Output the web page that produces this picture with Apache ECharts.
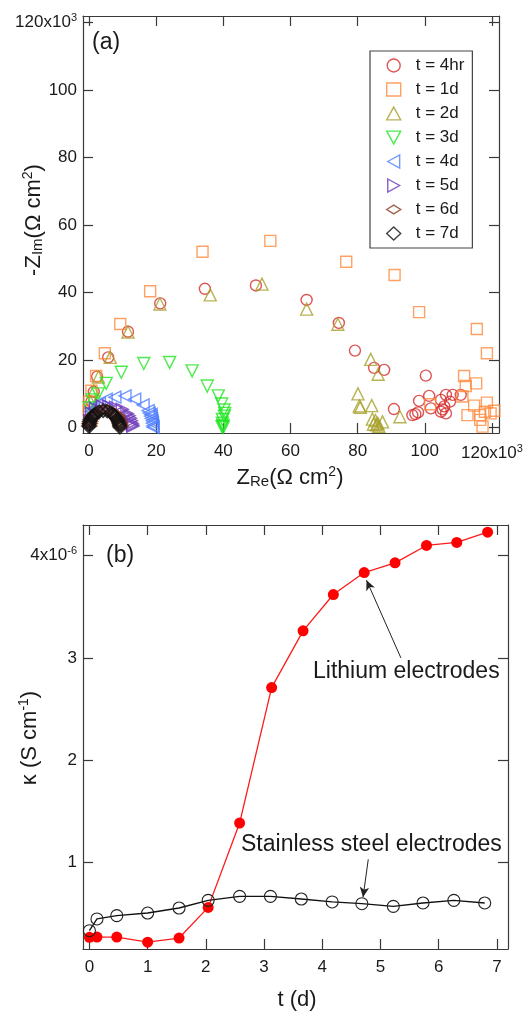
<!DOCTYPE html>
<html>
<head>
<meta charset="utf-8">
<script src="https://cdn.jsdelivr.net/npm/echarts@6/dist/echarts.min.js"></script>
<style>
html,body{margin:0;padding:0;background:#fff;}
#c{width:526px;height:1013px;}
</style>
</head>
<body>
<div id="c"></div>
<script>
// ---------- Panel (a): Nyquist plots, values in 10^3 Ω cm² ----------
const seriesNamesA = ['t = 4hr','t = 1d','t = 2d','t = 3d','t = 4d','t = 5d','t = 6d','t = 7d'];
const hr4 = [[0.7,7.7],[1.4,10.6],[2.4,15.1],[5.7,20.8],[11.6,28.4],[21.2,36.8],[34.5,41.1],[49.7,42.1],[64.8,37.8],[74.4,31.0],[79.2,22.8],[84.9,17.7],[87.9,17.1],[100.3,15.4],[90.8,5.5],[96.3,3.7],[97.2,4.0],[98.0,4.5],[98.3,7.9],[101.3,9.4],[101.8,5.7],[104.8,8.2],[104.8,4.7],[105.3,5.4],[105.8,6.3],[106.3,9.7],[106.3,4.2],[107.5,7.7],[108.3,9.7],[110.7,9.7]];
const d1 = [[-0.1,5.2],[0.1,7.7],[0.7,10.9],[2.1,15.3],[4.7,22.0],[9.3,30.7],[18.2,40.4],[33.8,52.1],[54.0,55.3],[76.6,49.1],[91.0,45.2],[98.3,34.2],[115.5,29.2],[118.5,22.0],[111.7,15.3],[112.2,12.3],[115.3,13.1],[111.2,9.2],[101.6,6.9],[114.7,6.5],[118.5,7.4],[112.7,3.7],[116.5,3.7],[117.9,4.7],[120.7,5.0],[116.5,2.3],[117.2,0.3],[119.6,4.2]];
const d2 = [[0.5,7.5],[1.4,10.8],[2.8,15.0],[6.3,20.8],[11.6,28.3],[21.1,36.6],[36.1,39.3],[51.5,42.5],[64.8,35.1],[74.1,30.6],[83.9,20.2],[86.1,15.8],[80.1,10.0],[80.5,6.4],[80.8,6.0],[84.2,6.5],[92.6,3.2],[84.4,2.5],[85.3,2.1],[86.0,1.3],[87.4,1.7],[84.7,1.0],[86.3,0.4],[85.6,0.8]];
const d3 = [[0.0,5.8],[0.9,8.2],[2.7,10.0],[5.1,13.1],[9.6,16.4],[16.3,19.0],[24.0,19.3],[30.7,16.8],[35.2,12.3],[38.5,9.4],[39.5,7.0],[40.2,5.2],[40.4,4.2],[40.3,3.4],[39.7,2.4],[39.7,1.3],[39.9,0.6],[40.0,0.1],[39.6,0.3]];
const d4 = [[0.3,3.5],[0.7,4.8],[1.4,5.7],[3.1,7.2],[5.1,8.4],[7.7,9.0],[10.7,9.4],[13.6,8.4],[16.1,6.7],[17.6,5.0],[17.9,4.3],[18.3,3.4],[18.5,3.9],[18.6,2.7],[18.8,2.0],[18.9,1.3],[19.0,0.5],[19.1,0.1]];
const d5 = [[0.2,2.0],[0.7,4.3],[1.9,5.7],[3.9,6.4],[5.9,6.4],[7.9,6.0],[9.9,5.4],[11.3,4.2],[11.9,3.5],[12.3,2.8],[12.6,2.0],[12.8,1.3],[13.0,0.8],[13.0,0.4]];
const d6 = [[0.1,0.5],[0.2,1.2],[0.3,1.8],[0.5,2.4],[0.8,3.0],[1.2,3.5],[1.6,4.0],[2.6,4.8],[3.8,5.3],[5.0,5.4],[6.2,5.1],[7.3,4.4],[7.8,3.9],[8.2,3.5],[8.5,3.0],[8.8,2.4],[9.0,1.8],[9.2,1.2],[9.3,0.7],[9.4,0.3]];
const d7 = [[0.0,0.3],[0.0,0.8],[0.1,1.2],[0.2,1.8],[0.4,2.3],[0.7,2.8],[1.0,3.3],[1.4,3.7],[1.9,4.1],[3.0,4.7],[4.2,5.0],[5.4,4.9],[6.5,4.4],[7.0,4.0],[7.5,3.6],[7.9,3.1],[8.3,2.6],[8.6,2.1],[8.8,1.6],[9.0,1.1],[9.1,0.6],[9.2,0.1]];
const ticksA = [0,20,40,60,80,100,120];

// ---------- Panel (b): conductivity vs time, κ in 10^-6 S cm^-1 ----------
const tLi = [0,0.13,0.47,1.0,1.54,2.04,2.58,3.13,3.67,4.19,4.72,5.25,5.79,6.31,6.84];
const kLi = [0.267,0.27,0.27,0.22,0.26,0.56,1.385,2.71,3.265,3.62,3.835,3.93,4.10,4.13,4.23];
const tSS = [0,0.13,0.47,1.0,1.54,2.04,2.58,3.11,3.64,4.17,4.68,5.22,5.73,6.26,6.79];
const kSS = [0.332,0.447,0.479,0.505,0.554,0.629,0.668,0.668,0.642,0.613,0.596,0.57,0.603,0.629,0.603];
const ticksBx = [0,1,2,3,4,5,6,7];
const ticksBy = [1,2,3,4];

const FONT = 'Liberation Sans, Arial, sans-serif';
const AX = '#3a3a3a';
const TXT = '#1a1a1a';
const supRich = {sup:{fontSize:11, fontFamily:FONT, color:TXT, verticalAlign:'bottom', padding:[0,0,9,0]}};

function frameAxis(extra){
  return Object.assign({
    type:'value', splitLine:{show:false},
    axisLine:{show:true, onZero:false, lineStyle:{color:AX, width:1.2}},
    axisTick:{show:true, inside:true, length:10, lineStyle:{color:AX, width:1.2}},
    axisLabel:{show:false}
  }, extra);
}

const colors = ['#d42a2a','#ff8a3d','#a6a02a','#22e622','#4f7dff','#6a35b8','#8a3a20','#111111'];
const symbols = [
  'circle', 'rect',
  'path://M6,0L12,11L0,11Z',
  'path://M0,0L12,0L6,11Z',
  'path://M0,6L11,0L11,12Z',
  'path://M0,0L11,6L0,12Z',
  'path://M0,5L8,0L16,5L8,10Z',
  'diamond'
];
const sizes = [11,11,12,12,12,12,[15,9],13];
const widths = [1.4,1.4,1.4,1.4,1.4,1.5,1.6,1.7];
const dataA = [hr4,d1,d2,d3,d4,d5,d6,d7];

const seriesA = dataA.map((d,i)=>({
  name: seriesNamesA[i], type:'scatter', xAxisIndex:0, yAxisIndex:0,
  data:d, symbol:symbols[i], symbolSize:sizes[i], z:2+i,
  itemStyle:{color:'rgba(0,0,0,0)', borderColor:colors[i], borderWidth:widths[i]},
  emphasis:{disabled:true}
}));

const option = {
  animation:false,
  textStyle:{fontFamily:FONT},
  grid:[
    {left:83, top:16, width:416, height:417, show:false},
    {left:83, top:525, width:425, height:424, show:false}
  ],
  xAxis:[
    frameAxis({gridIndex:0, min:-1.8, max:122.1, position:'bottom',
      axisTick:{show:true, inside:true, length:10, customValues:ticksA, lineStyle:{color:AX, width:1.2}},
      axisLabel:{show:true, customValues:ticksA, margin:10, fontSize:17, color:TXT, fontFamily:FONT, rich:supRich,
        formatter:v=> v===120 ? '120x10{sup|3}' : String(v)}}),
    frameAxis({gridIndex:0, min:-1.8, max:122.1, position:'top',
      axisTick:{show:true, inside:true, length:10, customValues:ticksA, lineStyle:{color:AX, width:1.2}}}),
    frameAxis({gridIndex:1, min:-0.11, max:7.19, position:'bottom',
      axisTick:{show:true, inside:true, length:10, customValues:ticksBx, lineStyle:{color:AX, width:1.2}},
      axisLabel:{show:true, customValues:ticksBx, margin:10, fontSize:17, color:TXT, fontFamily:FONT}}),
    frameAxis({gridIndex:1, min:-0.11, max:7.19, position:'top',
      axisTick:{show:true, inside:true, length:10, customValues:ticksBx, lineStyle:{color:AX, width:1.2}}})
  ],
  yAxis:[
    frameAxis({gridIndex:0, min:-1.6, max:121.9, position:'left',
      axisTick:{show:true, inside:true, length:10, customValues:ticksA, lineStyle:{color:AX, width:1.2}},
      axisLabel:{show:true, customValues:ticksA, margin:6, fontSize:17, color:TXT, fontFamily:FONT, rich:supRich,
        formatter:v=> v===120 ? '120x10{sup|3}' : String(v)}}),
    frameAxis({gridIndex:0, min:-1.6, max:121.9, position:'right',
      axisTick:{show:true, inside:true, length:10, customValues:ticksA, lineStyle:{color:AX, width:1.2}}}),
    frameAxis({gridIndex:1, min:0.153, max:4.30, position:'left',
      axisTick:{show:true, inside:true, length:10, customValues:ticksBy, lineStyle:{color:AX, width:1.2}},
      axisLabel:{show:true, customValues:ticksBy, margin:6, fontSize:17, color:TXT, fontFamily:FONT, rich:supRich,
        formatter:v=> v===4 ? '4x10{sup|-6}' : String(v)}}),
    frameAxis({gridIndex:1, min:0.153, max:4.30, position:'right',
      axisTick:{show:true, inside:true, length:10, customValues:ticksBy, lineStyle:{color:AX, width:1.2}}})
  ],
  legend:{
    data:seriesNamesA, orient:'vertical', left:370, top:51,
    itemWidth:14, itemHeight:13, itemGap:7,
    padding:[6,8,6,16],
    borderColor:'#444', borderWidth:1.2, backgroundColor:'#fff',
    selectedMode:false,
    textStyle:{fontSize:17, color:TXT, fontFamily:FONT, padding:[0,0,0,10]},
    itemStyle:{borderWidth:1.4}
  },
  series: seriesA.concat([
    {
      name:'Lithium electrodes', type:'line', xAxisIndex:2, yAxisIndex:2,
      data:tLi.map((t,i)=>[t,kLi[i]]), symbol:'circle', symbolSize:11, z:3,
      lineStyle:{color:'#ff1a1a', width:1.3}, itemStyle:{color:'#ff0000'},
      emphasis:{disabled:true},
      markLine:{silent:true, symbol:['none','arrow'], symbolSize:[7,10],
        lineStyle:{color:'#222', width:1, type:'solid'}, label:{show:false},
        data:[[{coord:[5.35,3.0]},{coord:[4.76,3.76]}]]}
    },
    {
      name:'Stainless steel electrodes', type:'line', xAxisIndex:2, yAxisIndex:2,
      data:tSS.map((t,i)=>[t,kSS[i]]), symbol:'circle', symbolSize:12, z:4,
      lineStyle:{color:'#111', width:1.3},
      itemStyle:{color:'rgba(0,0,0,0)', borderColor:'#222', borderWidth:1.1},
      emphasis:{disabled:true},
      markLine:{silent:true, symbol:['none','arrow'], symbolSize:[7,10],
        lineStyle:{color:'#222', width:1, type:'solid'}, label:{show:false},
        data:[[{coord:[4.79,1.03]},{coord:[4.70,0.66]}]]}
    }
  ]),
  graphic:[
    {type:'text', left:92, top:31, style:{text:'(a)', fontSize:23, fill:TXT, fontFamily:FONT}},
    {type:'text', left:106, top:544, style:{text:'(b)', fontSize:23, fill:TXT, fontFamily:FONT}},
    {type:'text', x:290, y:478, style:{text:'Z{sub|Re}(Ω cm{sup|2})', align:'center', verticalAlign:'middle',
      fontSize:22, fill:TXT, fontFamily:FONT,
      rich:{sub:{fontSize:15, fontFamily:FONT, fill:TXT, verticalAlign:'top', padding:[9,0,0,0]},
            sup:{fontSize:14, fontFamily:FONT, fill:TXT, verticalAlign:'bottom', padding:[0,0,11,0]}}}},
    {type:'text', x:34, y:220, rotation:Math.PI/2, style:{text:'-Z{sub|Im}(Ω cm{sup|2})', align:'center', verticalAlign:'middle',
      fontSize:22, fill:TXT, fontFamily:FONT,
      rich:{sub:{fontSize:15, fontFamily:FONT, fill:TXT, verticalAlign:'top', padding:[9,0,0,0]},
            sup:{fontSize:14, fontFamily:FONT, fill:TXT, verticalAlign:'bottom', padding:[0,0,11,0]}}}},
    {type:'text', x:297, y:1000, style:{text:'t (d)', align:'center', verticalAlign:'middle', fontSize:22, fill:TXT, fontFamily:FONT}},
    {type:'text', x:30, y:738, rotation:Math.PI/2, style:{text:'κ (S cm{sup|-1})', align:'center', verticalAlign:'middle',
      fontSize:22, fill:TXT, fontFamily:FONT,
      rich:{sup:{fontSize:14, fontFamily:FONT, fill:TXT, verticalAlign:'bottom', padding:[0,0,11,0]}}}},
    {type:'text', left:313, top:660, style:{text:'Lithium electrodes', fontSize:23, fill:TXT, fontFamily:FONT}},
    {type:'text', left:241, top:833, style:{text:'Stainless steel electrodes', fontSize:23, fill:TXT, fontFamily:FONT}}
  ]
};

const chart = echarts.init(document.getElementById('c'), null, {renderer:'canvas'});
chart.setOption(option);
</script>
</body>
</html>
